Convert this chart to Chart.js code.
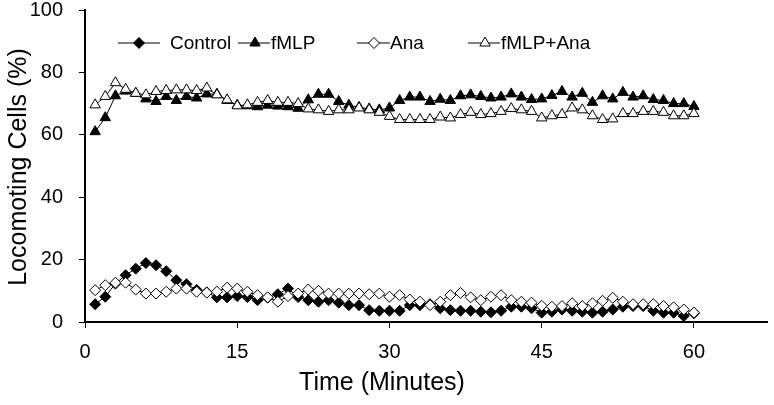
<!DOCTYPE html>
<html><head><meta charset="utf-8">
<script src="https://cdn.jsdelivr.net/npm/chart.js@4/dist/chart.umd.min.js"></script>
<style>html,body{margin:0;padding:0;background:#fff}#wrap{width:774px;height:405px;position:relative}</style>
</head><body><div id="wrap"><canvas id="c" width="774" height="405"></canvas></div>
<script>
const minutes = [1,2,3,4,5,6,7,8,9,10,11,12,13,14,15,16,17,18,19,20,21,22,23,24,25,26,27,28,29,30,31,32,33,34,35,36,37,38,39,40,41,42,43,44,45,46,47,48,49,50,51,52,53,54,55,56,57,58,59,60];
const control = [5.7,8.1,12.3,15.0,17.1,18.9,18.2,16.3,13.4,12.1,10.3,9.5,7.9,7.9,8.3,8.0,7.0,7.8,8.9,10.7,8.0,7.0,6.5,7.0,6.2,5.4,5.4,3.8,3.6,3.6,3.6,5.4,5.4,5.7,4.4,3.8,3.6,3.6,3.3,3.1,3.6,4.9,4.9,4.4,3.0,3.3,4.0,3.6,3.3,3.0,3.3,4.0,4.9,5.1,5.1,3.6,3.0,3.0,1.9,2.8];
const fmlp = [61,65.5,72.5,74,73.3,71.5,70.7,72.3,71,72.3,71.8,73.1,73,71,69.5,69.3,69,69.5,69.2,69,68.5,71.2,73,73,70.7,69.5,68.8,68.3,68,68.6,71,72.1,72.1,70.7,71.4,71,72.5,72.8,72.3,71.8,72.1,73.1,72.1,71.3,71.5,72.6,73.9,72.1,73.3,70.4,72.5,71.5,73.6,72.1,72.5,71.3,71,70,70,69.1];
const ana = [10.2,11.8,12.6,12.6,10.4,9.1,9.1,9.7,10.7,10.7,9.7,9.4,9.7,11.0,10.7,9.7,8.6,7.9,6.5,8.3,9.1,10.4,10.0,9.1,9.1,9.1,9.1,8.9,9.1,8.1,8.6,7.2,6.5,5.4,6.5,8.6,9.3,7.9,7.0,8.1,8.6,7.0,6.5,6.2,5.2,4.9,5.1,6.0,5.1,6.0,6.8,7.75,6.5,5.7,5.7,5.7,5.1,4.7,4.0,3.0];
const fmlpAna = [69.6,72.3,76.7,74.6,73.3,72.8,73.9,74.2,74.4,74.4,74.2,75.0,72.8,71.2,69.3,69.6,70.4,71.0,70.4,70.4,70.0,68.3,68.0,67.5,68.0,68.0,68.6,68.0,67.2,65.9,64.9,64.9,64.9,64.9,65.7,65.4,66.5,67.2,66.5,66.8,67.5,68.4,68.0,67.5,65.4,66.1,66.5,68.6,68.0,66.1,64.9,65.1,66.8,66.8,67.5,67.5,67.2,66.1,66.1,66.8];
const seriesNames = ['Control','fMLP','Ana','fMLP+Ana'];
const xTicks = [0,15,30,45,60];
const yTicks = [0,20,40,60,80,100];
const xTitle = 'Time (Minutes)';
const yTitle = 'Locomoting Cells (%)';

const FONT = '"Liberation Sans", Arial, Helvetica, sans-serif';
const toXY = arr => arr.map((v,i) => ({x: minutes[i], y: v}));
const styles = [
  {pointStyle:'rectRot', radius:5.5, fill:'#000'},
  {pointStyle:'triangle', radius:6, fill:'#000'},
  {pointStyle:'rectRot', radius:5.5, fill:'#fff'},
  {pointStyle:'triangle', radius:6, fill:'#fff'}
];
const seriesData = [control, fmlp, ana, fmlpAna];
const datasets = seriesData.map((arr,i) => ({
  label: seriesNames[i],
  data: toXY(arr),
  borderColor:'#000', borderWidth:1,
  pointStyle: styles[i].pointStyle, pointRadius: styles[i].radius,
  pointBackgroundColor: styles[i].fill, pointBorderColor:'#000', pointBorderWidth:1,
  tension:0, fill:false, order: 3 - i
}));

const overlay = {
  id:'overlay',
  afterDraw(chart){
    const ctx = chart.ctx;
    ctx.save();
    ctx.fillStyle = '#000';
    ctx.font = '25px ' + FONT;
    ctx.textAlign = 'center'; ctx.textBaseline = 'middle';
    ctx.fillText(xTitle, 382, 383);
    ctx.save();
    ctx.translate(19, 167);
    ctx.rotate(-Math.PI/2);
    ctx.fillText(yTitle, 0, 0);
    ctx.restore();
    // legend
    const legendY = 43;
    const items = [
      {l:118, r:160, m:139, t:170},
      {l:238, r:270, m:255, t:271},
      {l:357, r:390, m:374, t:390},
      {l:468, r:500, m:485, t:501}
    ];
    ctx.font = '19px ' + FONT;
    ctx.textAlign = 'left';
    items.forEach((it,i) => {
      ctx.strokeStyle = '#000'; ctx.lineWidth = 1;
      ctx.beginPath(); ctx.moveTo(it.l, legendY); ctx.lineTo(it.r, legendY); ctx.stroke();
      ctx.fillStyle = styles[i].fill;
      Chart.helpers.drawPoint(ctx, {pointStyle: styles[i].pointStyle, radius: styles[i].radius, rotation:0, borderWidth:1}, it.m, legendY);
      ctx.fillStyle = '#000';
      ctx.fillText(seriesNames[i], it.t, legendY + 1);
    });
    ctx.restore();
  }
};

const tickFont = {family: FONT, size: 20, lineHeight: 1.0};
new Chart(document.getElementById('c'), {
  type:'line',
  data:{datasets},
  options:{
    responsive:false, animation:false, devicePixelRatio:1,
    layout:{padding:{top:10,right:1,left:0,bottom:0}},
    plugins:{legend:{display:false}, tooltip:{enabled:false}},
    scales:{
      x:{type:'linear', min:0, max:67.2,
        afterBuildTicks: s => { s.ticks = xTicks.map(v => ({value:v})); },
        afterFit: s => { s.height = 83; s.paddingLeft = 0; s.paddingRight = 0; },
        ticks:{font:tickFont, color:'#000', padding:14, maxRotation:0, autoSkip:false},
        grid:{drawOnChartArea:false, drawTicks:true, tickLength:6, color:'#000', lineWidth:1},
        border:{display:true, color:'#000', width:2}},
      y:{type:'linear', min:0, max:100,
        afterBuildTicks: s => { s.ticks = yTicks.map(v => ({value:v})); },
        afterFit: s => { s.width = 85; s.paddingTop = 0; s.paddingBottom = 0; },
        ticks:{font:tickFont, color:'#000', padding:16, autoSkip:false},
        grid:{drawOnChartArea:false, drawTicks:true, tickLength:6, color:'#000', lineWidth:1},
        border:{display:true, color:'#000', width:2}}
    }
  },
  plugins:[overlay]
});
</script></body></html>
